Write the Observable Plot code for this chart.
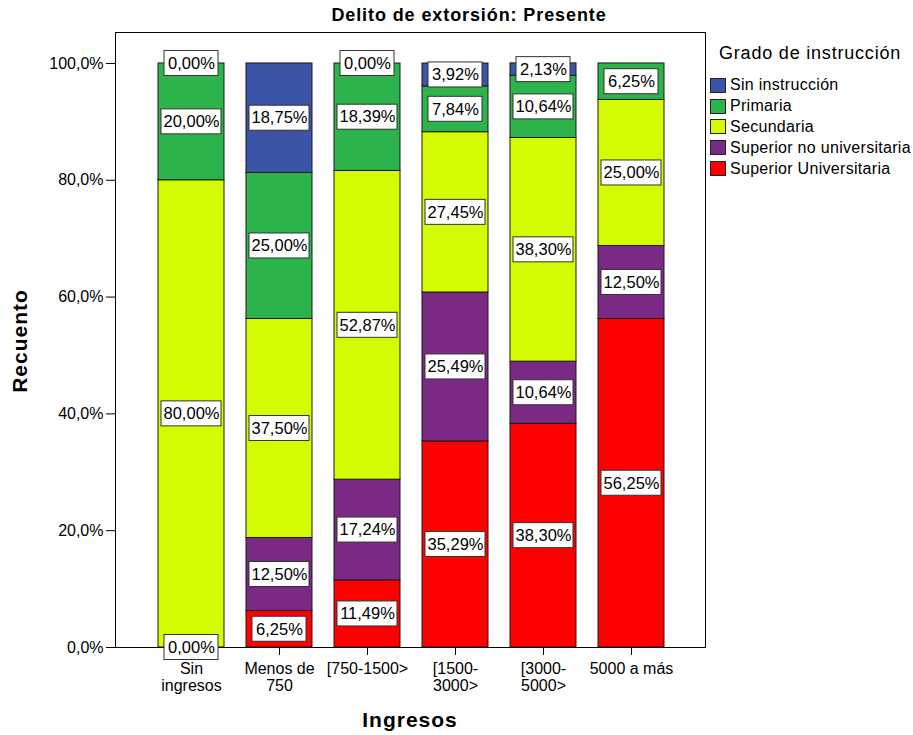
<!DOCTYPE html>
<html>
<head>
<meta charset="utf-8">
<script src="https://cdn.jsdelivr.net/npm/d3@7"></script>
<script src="https://cdn.jsdelivr.net/npm/@observablehq/plot@0.6"></script>
<style>
  body { margin: 0; background: #fff; font-family: "Liberation Sans", Arial, sans-serif; }
  #wrap { position: relative; width: 913px; height: 735px; }
  .abs { position: absolute; white-space: nowrap; color: #000; }
  #title { left: 469px; top: 15px; transform: translate(-50%, -50%); font-weight: bold; font-size: 18px; letter-spacing: 0.9px; }
  #ylab { left: 20px; top: 341px; transform: translate(-50%, -50%) rotate(-90deg); font-weight: bold; font-size: 21px; letter-spacing: 1px; }
  #xlab { left: 410px; top: 720px; transform: translate(-50%, -50%); font-weight: bold; font-size: 21px; letter-spacing: 1px; }
  #legend { left: 710px; top: 40px; }
  #legend .lt { font-size: 18px; letter-spacing: 0.8px; margin-left: 9px; height: 26px; line-height: 26px; margin-bottom: 9px; }
  #legend .it { display: flex; align-items: center; height: 20.8px; font-size: 16px; letter-spacing: 0.3px; }
  #legend .sw { width: 14px; height: 13px; border: 1px solid #222; margin-right: 4px; }
</style>
</head>
<body>
<div id="wrap">
  <div id="chart"></div>
  <div class="abs" id="title">Delito de extorsión: Presente</div>
  <div class="abs" id="ylab">Recuento</div>
  <div class="abs" id="xlab">Ingresos</div>
  <div class="abs" id="legend"></div>
</div>
<script>
// Categories (x axis)
const categories = ["Sin ingresos", "Menos de 750", "[750-1500>", "[1500-3000>", "[3000-5000>", "5000 a más"];
const tickLabels = ["Sin\ningresos", "Menos de\n750", "[750-1500>", "[1500-\n3000>", "[3000-\n5000>", "5000 a más"];
// Series (stack order bottom -> top)
const levels = ["Superior Universitaria", "Superior no universitaria", "Secundaria", "Primaria", "Sin instrucción"];
const legendOrder = ["Sin instrucción", "Primaria", "Secundaria", "Superior no universitaria", "Superior Universitaria"];
const colors = ["#FF0000", "#7A2A84", "#D3FC02", "#2DB34B", "#3B54A5"];
// Percent values per category, in stack order (null = category absent)
const supUniv    = [0.00, 6.25, 11.49, 35.29, 38.30, 56.25];
const supNoUniv  = [null, 12.50, 17.24, 25.49, 10.64, 12.50];
const secundaria = [80.00, 37.50, 52.87, 27.45, 38.30, 25.00];
const primaria   = [20.00, 25.00, 18.39, 7.84, 10.64, 6.25];
const sinInstr   = [0.00, 18.75, 0.00, 3.92, 2.13, null];
const yTicks = [0, 0.2, 0.4, 0.6, 0.8, 1.0];

const series = [supUniv, supNoUniv, secundaria, primaria, sinInstr];
const data = [];
categories.forEach((cat, ci) => {
  let cum = 0;
  series.forEach((arr, si) => {
    const v = arr[ci];
    if (v === null) return;
    const p = v / 100;
    data.push({cat, level: levels[si], value: p, mid: cum + p / 2,
               label: v.toFixed(2).replace(".", ",") + "%"});
    cum += p;
  });
});
const short = data.filter(d => d.label.length <= 5);
const long = data.filter(d => d.label.length > 5);
const fmtY = d => (d * 100).toFixed(1).replace(".", ",") + "%";

const chart = Plot.plot({
  width: 913,
  height: 735,
  marginTop: 32,
  marginBottom: 88,
  marginLeft: 115,
  marginRight: 208,
  style: {fontFamily: "'Liberation Sans', Arial, sans-serif", fontSize: "16px", color: "#000", background: "transparent", overflow: "visible"},
  x: {domain: categories, range: [155, 667], paddingInner: 0.245, paddingOuter: 0, label: null},
  y: {domain: [0, 1.053], label: null},
  color: {domain: levels, range: colors},
  marks: [
    Plot.barY(data, Plot.stackY({x: "cat", y: "value", fill: "level", stroke: "#1a1a1a", strokeWidth: 1, order: null})),
    Plot.frame({stroke: "#000", strokeWidth: 1}),
    Plot.axisY({ticks: yTicks, tickFormat: fmtY, tickSize: 9, tickPadding: 3, fontSize: 16, stroke: "#000", label: null}),
    Plot.axisX({tickSize: 8, tickPadding: 7, fontSize: 16, lineHeight: 1.05,
                tickFormat: d => tickLabels[categories.indexOf(d)], label: null}),
    Plot.barY(long, {x: "cat", y1: "mid", y2: "mid", insetTop: -12.5, insetBottom: -12.5, insetLeft: 3, insetRight: 3, fill: "white", stroke: "#333", strokeWidth: 1}),
    Plot.barY(short, {x: "cat", y1: "mid", y2: "mid", insetTop: -12.5, insetBottom: -12.5, insetLeft: 6, insetRight: 6, fill: "white", stroke: "#333", strokeWidth: 1}),
    Plot.text(data, {x: "cat", y: "mid", text: "label", fontSize: 16.5, fill: "#000"})
  ]
});
document.getElementById("chart").appendChild(chart);

const legend = document.getElementById("legend");
const lt = document.createElement("div");
lt.className = "lt"; lt.textContent = "Grado de instrucción";
legend.appendChild(lt);
legendOrder.forEach(name => {
  const it = document.createElement("div"); it.className = "it";
  const sw = document.createElement("div"); sw.className = "sw";
  sw.style.background = colors[levels.indexOf(name)];
  const tx = document.createElement("span"); tx.textContent = name;
  it.appendChild(sw); it.appendChild(tx); legend.appendChild(it);
});
</script>
</body>
</html>
